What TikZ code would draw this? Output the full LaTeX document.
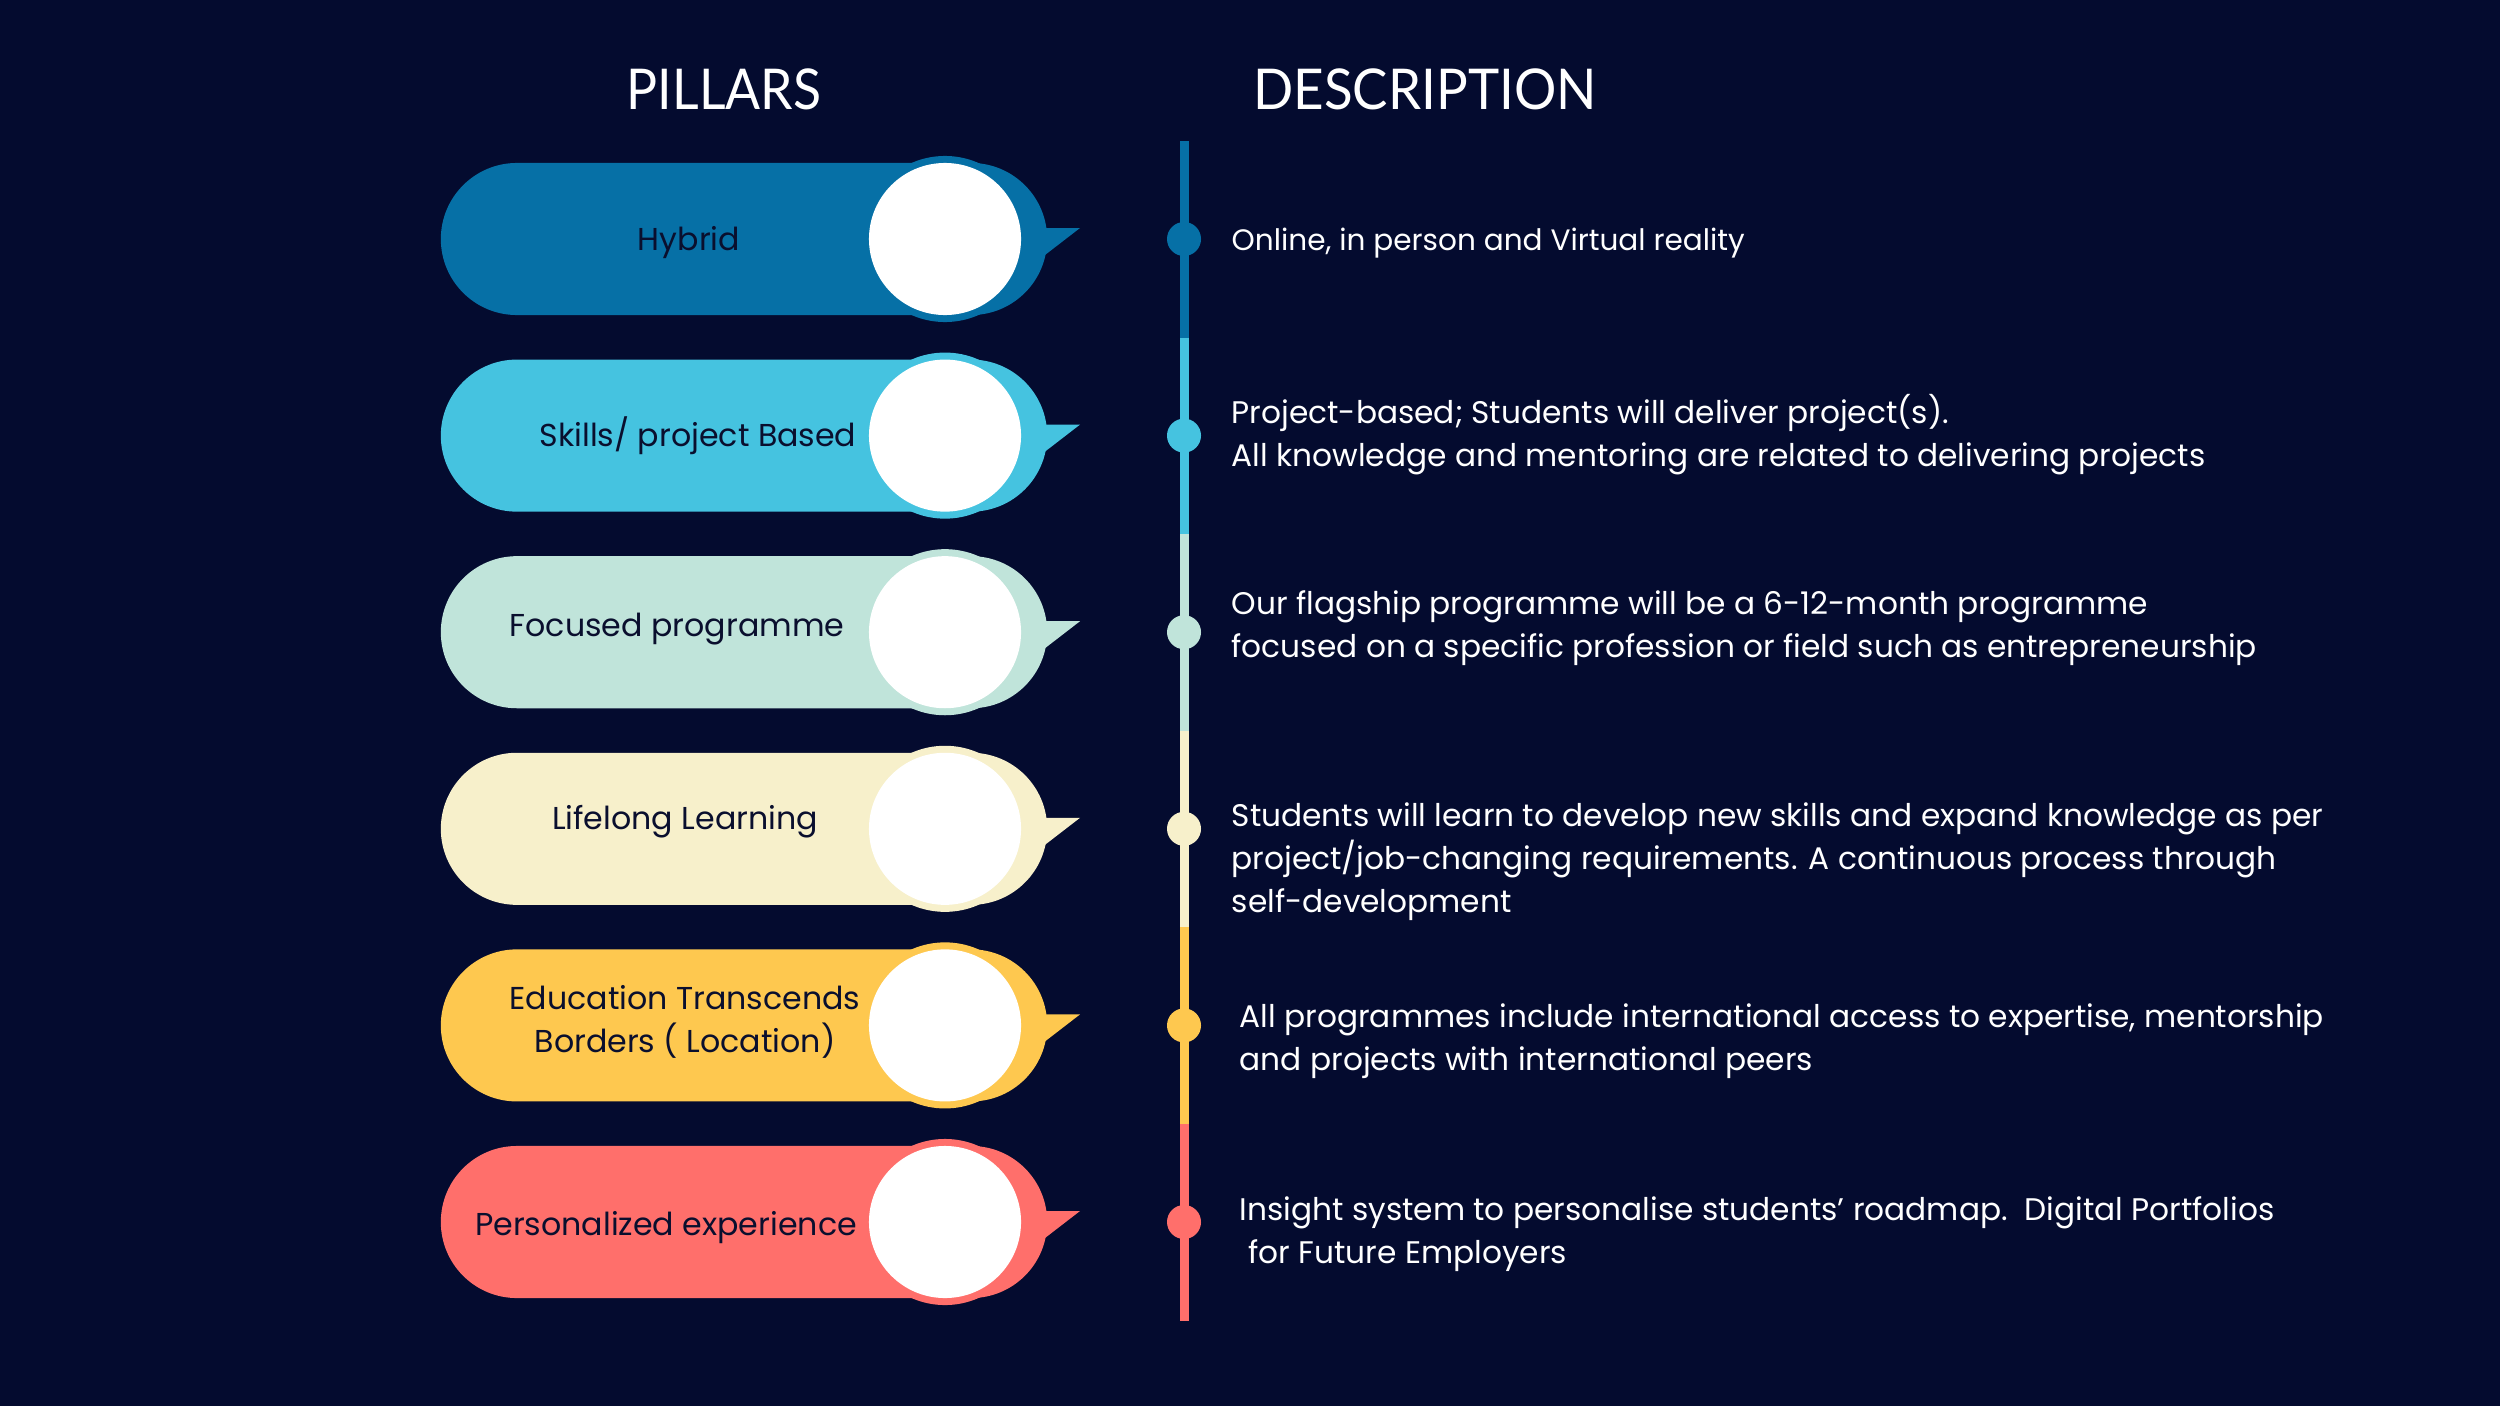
\documentclass[tikz,border=0pt]{standalone}
\usepackage{fontspec}
\setmainfont{Poppins}
\newfontfamily\headfont{Lato}
\usepackage{graphicx}
\usepackage{tikz}
\usetikzlibrary{positioning,shapes.misc}
\usepackage{xcolor}
\definecolor{bgnavy}{HTML}{040B2F}
\definecolor{inkdark}{HTML}{0A0F2E}
\definecolor{pillA}{HTML}{0670A6}
\definecolor{pillB}{HTML}{45C3E0}
\definecolor{pillC}{HTML}{C0E4DA}
\definecolor{pillD}{HTML}{F7F0CB}
\definecolor{pillE}{HTML}{FEC84F}
\definecolor{pillF}{HTML}{FF6F6B}

\begin{document}
\begin{tikzpicture}[x=0.01cm,y=-0.01cm,
  pillbox/.style={rounded rectangle,minimum width=6.06cm,minimum height=1.52cm,inner sep=0pt},
  ringdot/.style={circle,minimum size=1.66cm,inner sep=0pt},
  whitedot/.style={circle,fill=white,minimum size=1.52cm,inner sep=0pt},
  stepdot/.style={circle,minimum size=0.34cm,inner sep=0pt},
  pilltext/.style={text=inkdark,font=\fontsize{9}{12.2}\selectfont,align=center},
  desctext/.style={text=white,font=\fontsize{8.88}{12.2}\selectfont,align=left,anchor=west,inner sep=0pt},
  headtext/.style={text=white,font=\headfont\fontsize{16}{19}\selectfont}]
\useasboundingbox[fill=bgnavy] (0,0) rectangle (2500,1406);

% headings
\node[headtext] (hpillars) at (724,89) {\scalebox{0.92}[1]{PILLARS}};
\node[headtext] (hdesc) at (1425,89) {\scalebox{0.94}[1]{DESCRIPTION}};

% pills and timeline
\foreach \i/\col in {1/pillA,2/pillB,3/pillC,4/pillD,5/pillE,6/pillF}{
  \pgfmathsetmacro{\yy}{239+196.6*(\i-1)}
  \pgfmathsetmacro{\ytop}{141+196.6*(\i-1)}
  \pgfmathsetmacro{\ybot}{338+196.6*(\i-1)}
  \node[pillbox,fill=\col] (pill\i) at (744,\yy) {};
  \fill[\col] (1040,\yy-11) -- (1080,\yy-11) -- (1045,\yy+16) -- cycle;
  \node[ringdot,fill=\col] (ring\i) at (945,\yy) {};
  \node[whitedot] (white\i) at (945,\yy) {};
  \coordinate (top\i) at (1184,\ytop);
  \coordinate (bot\i) at (1184,\ybot);
  \draw[\col,line width=0.09cm] (top\i) -- (bot\i);
  \node[stepdot,fill=\col] (dot\i) at (1184,\yy) {};
}

% pill labels
\node[pilltext] (lab1) at (689,243) {Hybrid};
\node[pilltext] (lab2) at (698,436) {Skills/ project Based};
\node[pilltext] (lab3) at (677,629) {Focused programme};
\node[pilltext] (lab4) at (685,822) {Lifelong Learning};
\node[pilltext] (lab5) at (685,1022) {Education Transcends\\Borders ( Location)};
\node[pilltext] (lab6) at (666,1228) {Personalized experience};

% descriptions
\node[desctext,font=\fontsize{8.4}{12.2}\selectfont] (desc1) at (1231,243) {Online, in person and Virtual reality};
\node[desctext] (desc2) at (1231,435) {Project-based; Students will deliver project(s).\\All knowledge and mentoring are related to delivering projects};
\node[desctext] (desc3) at (1231,628) {Our flagship programme will be a 6-12-month programme\\focused on a specific profession or field such as entrepreneurship};
\node[desctext] (desc4) at (1231,862) {Students will learn to develop new skills and expand knowledge as per\\project/job-changing requirements. A continuous process through\\self-development};
\node[desctext] (desc5) at (1239,1041) {All programmes include international access to expertise, mentorship\\and projects with international peers};
\node[desctext] (desc6) at (1239,1234) {Insight system to personalise students’ roadmap.\ \ Digital Portfolios\\\hspace*{2.5pt}for Future Employers};
\end{tikzpicture}
\end{document}
